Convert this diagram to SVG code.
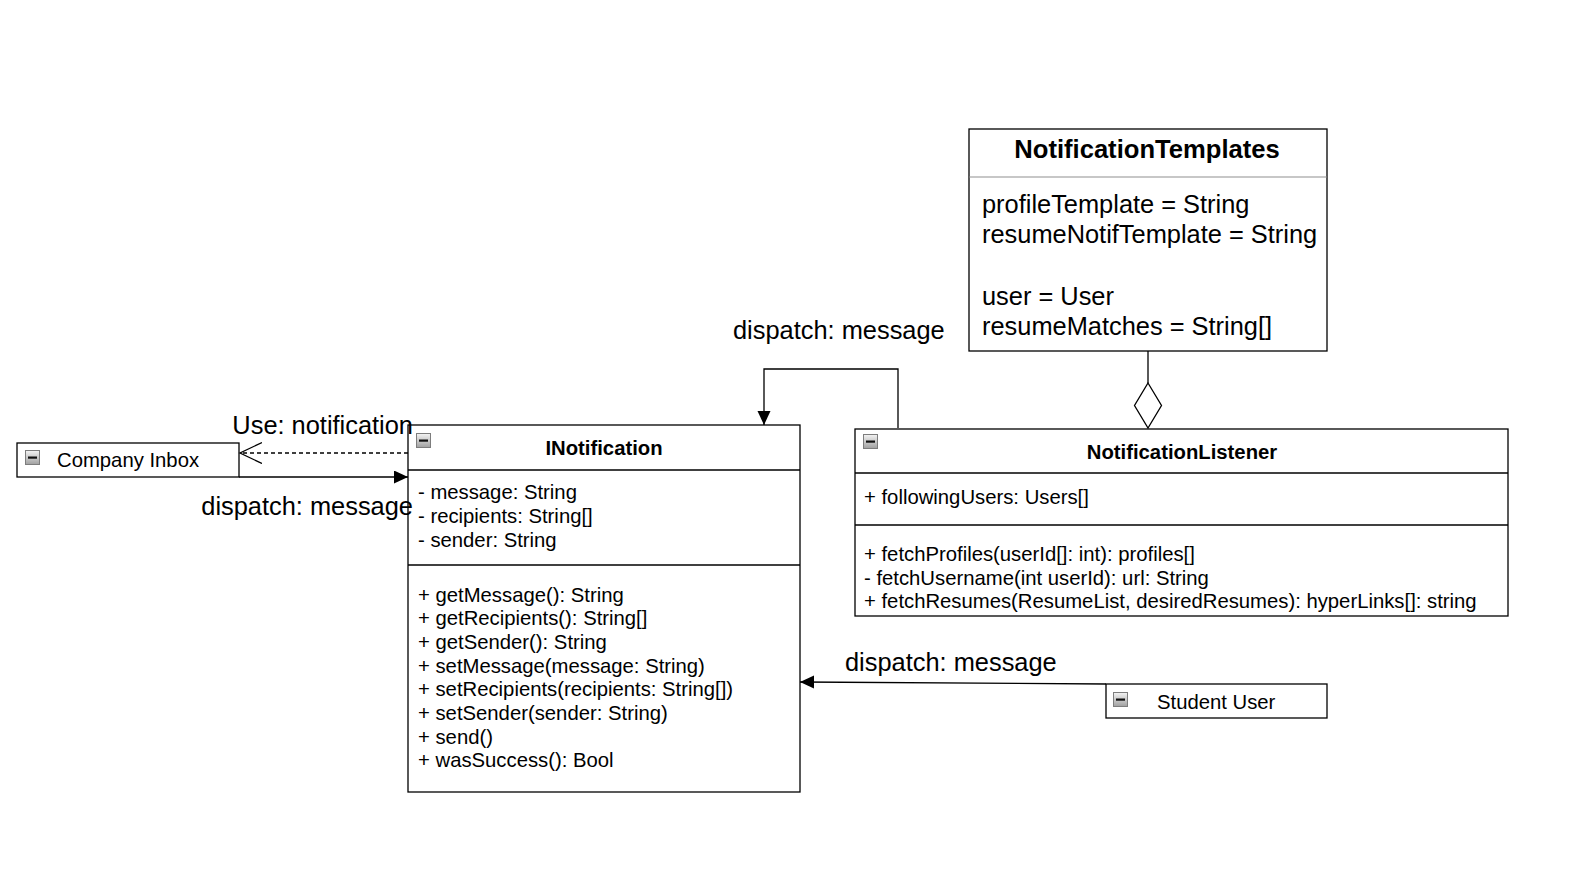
<svg xmlns="http://www.w3.org/2000/svg" width="1596" height="880" viewBox="0 0 1596 880">
<style>
  text { font-family: "Liberation Sans", Arial, Helvetica, sans-serif; fill: #000; }
  .box { fill: #fff; stroke: #000; stroke-width: 1.3; }
  .sep { stroke: #000; stroke-width: 1.3; }
  .sepg { stroke: #b4b4b4; stroke-width: 1.5; }
  .t20 { font-size: 20.3px; }
  .b20 { font-size: 20.3px; font-weight: bold; }
  .t25 { font-size: 25.4px; }
  .b25 { font-size: 25.6px; font-weight: bold; }
  .lbl { font-size: 25.4px; }
  .edge { fill: none; stroke: #000; stroke-width: 1.3; }
  .dash { stroke-dasharray: 4 3; }
</style>
<defs>
  <linearGradient id="ig" x1="0" y1="0" x2="0" y2="1">
    <stop offset="0" stop-color="#f4f4f4"/>
    <stop offset="1" stop-color="#a0a0a0"/>
  </linearGradient>
  <g id="minus">
    <rect x="0.5" y="0.5" width="14" height="14" fill="url(#ig)" stroke="#7d7d7d" stroke-width="1"/>
    <rect x="3" y="6.5" width="9" height="2.2" fill="#111"/>
  </g>
  <marker id="tri" markerUnits="userSpaceOnUse" markerWidth="15" markerHeight="14" refX="14" refY="6.5" orient="auto">
    <path d="M0,0 L14,6.5 L0,13 z" fill="#000"/>
  </marker>
  <marker id="open" markerUnits="userSpaceOnUse" markerWidth="24" markerHeight="23" refX="22" refY="10.5" orient="auto">
    <path d="M0,0 L22,10.5 L0,21" fill="none" stroke="#000" stroke-width="1.3"/>
  </marker>
</defs>

<g id="notification-templates">
  <rect class="box" x="969" y="129" width="358" height="222"/>
  <line class="sepg" x1="969.7" y1="177" x2="1326.3" y2="177"/>
  <text class="b25" x="1147" y="158" text-anchor="middle">NotificationTemplates</text>
  <text class="t25" x="982" y="213">profileTemplate = String</text>
  <text class="t25" x="982" y="243">resumeNotifTemplate = String</text>
  <text class="t25" x="982" y="305">user = User</text>
  <text class="t25" x="982" y="335">resumeMatches = String[]</text>
</g>

<g id="company-inbox">
  <rect class="box" x="17" y="443" width="222" height="34"/>
  <use href="#minus" x="25" y="450"/>
  <text class="t20" x="57" y="467">Company Inbox</text>
</g>

<g id="inotification">
  <rect class="box" x="408" y="425" width="392" height="367"/>
  <line class="sep" x1="408" y1="470" x2="800" y2="470"/>
  <line class="sep" x1="408" y1="565" x2="800" y2="565"/>
  <use href="#minus" x="416" y="433"/>
  <text class="b20" x="604" y="455" text-anchor="middle">INotification</text>
  <text class="t20" x="418" y="499">- message: String</text>
  <text class="t20" x="418" y="523">- recipients: String[]</text>
  <text class="t20" x="418" y="547">- sender: String</text>
  <text class="t20" x="418" y="601.5">+ getMessage(): String</text>
  <text class="t20" x="418" y="625.2">+ getRecipients(): String[]</text>
  <text class="t20" x="418" y="648.9">+ getSender(): String</text>
  <text class="t20" x="418" y="672.6">+ setMessage(message: String)</text>
  <text class="t20" x="418" y="696.3">+ setRecipients(recipients: String[])</text>
  <text class="t20" x="418" y="720">+ setSender(sender: String)</text>
  <text class="t20" x="418" y="743.7">+ send()</text>
  <text class="t20" x="418" y="767.4">+ wasSuccess(): Bool</text>
</g>

<g id="notification-listener">
  <rect class="box" x="855" y="429" width="653" height="187"/>
  <line class="sep" x1="855" y1="473" x2="1508" y2="473"/>
  <line class="sep" x1="855" y1="525" x2="1508" y2="525"/>
  <use href="#minus" x="863" y="434"/>
  <text class="b20" x="1182" y="459" text-anchor="middle">NotificationListener</text>
  <text class="t20" x="864" y="504">+ followingUsers: Users[]</text>
  <text class="t20" x="864" y="561">+ fetchProfiles(userId[]: int): profiles[]</text>
  <text class="t20" x="864" y="584.5">- fetchUsername(int userId): url: String</text>
  <text class="t20" x="864" y="608">+ fetchResumes(ResumeList, desiredResumes): hyperLinks[]: string</text>
</g>

<g id="student-user">
  <rect class="box" x="1106" y="684" width="221" height="34"/>
  <use href="#minus" x="1113" y="692"/>
  <text class="t20" x="1157" y="709">Student User</text>
</g>

<g id="connectors">
  <path class="edge dash" d="M408,453 L240,453" marker-end="url(#open)"/>
  <path class="edge" d="M239,477 L408,477" marker-end="url(#tri)"/>
  <path class="edge" d="M898,428 L898,369 L764,369 L764,425" marker-end="url(#tri)"/>
  <path class="edge" d="M1106,684 L800,682" marker-end="url(#tri)"/>
  <path class="edge" d="M1148,351 L1148,383"/>
  <polygon points="1148,383 1161.5,405.5 1148,428 1134.5,405.5" fill="#fff" stroke="#000" stroke-width="1.3"/>
  <text class="lbl" x="413" y="434" text-anchor="end">Use: notification</text>
  <text class="lbl" x="413" y="515" text-anchor="end">dispatch: message</text>
  <text class="lbl" x="733" y="339">dispatch: message</text>
  <text class="lbl" x="845" y="671">dispatch: message</text>
</g>
</svg>
